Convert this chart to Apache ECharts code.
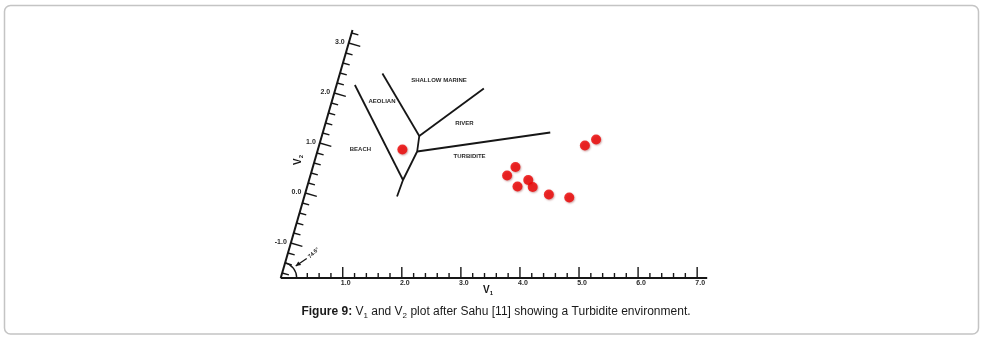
<!DOCTYPE html>
<html>
<head>
<meta charset="utf-8">
<script src="https://cdn.jsdelivr.net/npm/echarts@6/dist/echarts.min.js"></script>
<style>
html, body { margin: 0; padding: 0; background: #fff; }
#main { width: 984px; height: 344px; }
</style>
</head>
<body>
<div id="main"></div>
<script>
// samples (V1, V2)
var sampleV1 = [4.45, 4.61, 3.38, 3.28, 3.66, 3.51, 3.77, 4.08, 4.44, 1.38];
var sampleV2 = [0.95, 1.07, 0.52, 0.35, 0.26, 0.13, 0.12, -0.03, -0.09, 0.87];

// field boundaries as (V1, V2) vertices
var beachLine = [[0.26, 2.16], [1.54, 0.26]];
var aeolianLine = [[0.67, 2.39], [1.60, 1.14]];
var stemLine = [[1.60, 1.14], [1.64, 0.83], [1.54, 0.26], [1.52, -0.07]];
var riverLine = [[1.60, 1.14], [2.46, 2.09]];
var turbiditeLine = [[1.64, 0.83], [3.80, 1.21]];

var fieldNames = ['SHALLOW MARINE', 'AEOLIAN', 'RIVER', 'BEACH', 'TURBIDITE'];
var fieldV1 = [1.66, 0.80, 2.30, 0.67, 2.55];
var fieldV2 = [2.26, 1.83, 1.40, 0.87, 0.74];

// axes
var v1Range = [-0.05, 7.17];
var v2Range = [-1.7, 3.26];
var v1Ticks = [1, 2, 3, 4, 5, 6, 7];
var v1Labels = ['1.0', '2.0', '3.0', '4.0', '5.0', '6.0', '7.0'];
var v2Ticks = [-1, 0, 1, 2, 3];
var v2Labels = ['-1.0', '0.0', '1.0', '2.0', '3.0'];
var angleLabel = '74.6\u00b0';

// V2 axis leans over; shift in V1 units per unit of V2
var SKEW = 0.245;
function toXY(a, b) {
    return [a + (b - v2Range[0]) * SKEW, b];
}

var INK = '#161616';
var FONT = 'Liberation Sans, Arial, sans-serif';

function seg(pts) {
    return pts.map(function (d) { return toXY(d[0], d[1]); });
}

function boundary(pts) {
    return {
        type: 'line',
        data: seg(pts),
        symbol: 'none',
        silent: true,
        lineStyle: { color: INK, width: 1.8 },
        z: 3
    };
}

function renderFrame(params, api) {
    var ch = [];
    var p = function (a, b) { return api.coord(toXY(a, b)); };
    var line = function (a, b, w) {
        ch.push({ type: 'line', shape: { x1: a[0], y1: a[1], x2: b[0], y2: b[1] },
            style: { stroke: INK, lineWidth: w } });
    };
    var text = function (x, y, s, size, align, extra) {
        var st = { text: s, x: x, y: y, fill: '#2a2a2a', fontSize: size, fontWeight: 'bold',
            fontFamily: FONT, align: align || 'center', verticalAlign: 'middle' };
        var el = { type: 'text', style: st };
        if (extra) { for (var k in extra) el[k] = extra[k]; }
        ch.push(el);
    };

    var o = p(v1Range[0], v2Range[0]);
    var top = p(v1Range[0], v2Range[1]);
    line(o, p(v1Range[1], v2Range[0]), 2);
    line(o, top, 2);

    // V1 ticks, every 0.2, pointing up
    for (var i = 2; i <= 35; i++) {
        var a = p(i / 5, v2Range[0]);
        var len = i % 5 === 0 ? 11 : 5;
        line(a, [a[0], a[1] - len], 1.4);
    }
    v1Ticks.forEach(function (t, k) {
        var a = p(t, v2Range[0]);
        text(a[0] + 3, a[1] + 5.5, v1Labels[k], 7);
    });

    // V2 ticks, perpendicular to the leaning axis
    var dx = top[0] - o[0], dy = top[1] - o[1];
    var dl = Math.sqrt(dx * dx + dy * dy);
    var nx = -dy / dl, ny = dx / dl;
    for (var j = -8; j <= 16; j++) {
        var b = p(v1Range[0], j / 5);
        var ln = j % 5 === 0 ? 12 : 7;
        line(b, [b[0] + nx * ln, b[1] + ny * ln], 1.4);
    }
    v2Ticks.forEach(function (t, k) {
        var b = p(v1Range[0], t);
        text(b[0] - 4, b[1] - 1, v2Labels[k], 7, 'right');
    });

    // axis titles
    var t1 = p(3.46, v2Range[0]);
    ch.push({ type: 'text', style: { text: '{v|V}{s|1}', x: t1[0], y: t1[1] + 12,
        align: 'center', verticalAlign: 'middle',
        rich: { v: { fontSize: 10, fontWeight: 'bold', fill: INK, fontFamily: FONT },
                s: { fontSize: 6, fontWeight: 'bold', fill: INK, fontFamily: FONT, padding: [6, 0, 0, 0] } } } });
    var t2 = p(v1Range[0], 0.66);
    ch.push({ type: 'text', x: t2[0] - 17, y: t2[1], rotation: Math.PI / 2,
        style: { text: '{v|V}{s|2}', x: 0, y: 0, align: 'center', verticalAlign: 'middle',
        rich: { v: { fontSize: 10, fontWeight: 'bold', fill: INK, fontFamily: FONT },
                s: { fontSize: 6, fontWeight: 'bold', fill: INK, fontFamily: FONT, padding: [6, 0, 0, 0] } } } });

    // angle mark at the corner
    var ang = Math.atan2(-dy, dx);
    ch.push({ type: 'arc', shape: { cx: o[0], cy: o[1], r: 16, startAngle: -ang, endAngle: 0, clockwise: true },
        style: { stroke: INK, lineWidth: 1.4, fill: null } });
    var tip = [o[0] + 15, o[1] - 12];
    var tail = [o[0] + 26, o[1] - 19.5];
    line(tip, tail, 1.3);
    ch.push({ type: 'polygon', shape: { points: [tip, [tip[0] + 5.5, tip[1] - 1], [tip[0] + 2.5, tip[1] - 4.5]] },
        style: { fill: INK } });
    text(o[0] + 33, o[1] - 25, angleLabel, 5.5, 'center', { rotation: Math.PI / 4.2, originX: o[0] + 33, originY: o[1] - 25 });

    // field names
    fieldNames.forEach(function (n, k) {
        var f = p(fieldV1[k], fieldV2[k]);
        text(f[0], f[1], n, 6);
    });

    return { type: 'group', children: ch };
}

var chart = echarts.init(document.getElementById('main'), null, { renderer: 'canvas' });
var option = {
    animation: false,
    backgroundColor: '#fff',
    grid: { left: 224.6, right: 168.7, top: 13, bottom: 66 },
    xAxis: { type: 'value', min: -1, max: 9, show: false },
    yAxis: { type: 'value', min: -1.7, max: 3.6, show: false },
    graphic: [
        { type: 'rect', shape: { x: 4.5, y: 5.5, width: 974, height: 328.5, r: 6 },
          style: { fill: null, stroke: '#c4c4c4', lineWidth: 1.5 }, silent: true },
        { type: 'text', x: 496, y: 312, silent: true,
          style: { text: '{b|Figure 9:}{n| V}{s|1}{n| and V}{s|2}{n| plot after Sahu [11] showing a Turbidite environment.}',
            align: 'center', verticalAlign: 'middle',
            rich: {
                b: { fontSize: 12, fontWeight: 'bold', fill: '#1a1a1a', fontFamily: FONT },
                n: { fontSize: 12, fill: '#1a1a1a', fontFamily: FONT },
                s: { fontSize: 8, fill: '#1a1a1a', fontFamily: FONT, padding: [8, 0, 0, 0] }
            } } }
    ],
    series: [
        { type: 'custom', data: [[0, 0]], renderItem: renderFrame, clip: false, silent: true, z: 2 },
        boundary(beachLine),
        boundary(aeolianLine),
        boundary(stemLine),
        boundary(riverLine),
        boundary(turbiditeLine),
        {
            type: 'scatter',
            data: sampleV1.map(function (a, i) { return toXY(a, sampleV2[i]); }),
            symbolSize: 10,
            itemStyle: { color: '#ec0000', shadowColor: 'rgba(120,0,0,0.45)', shadowBlur: 2,
                shadowOffsetX: 0.8, shadowOffsetY: 1 },
            z: 4
        }
    ]
};
chart.setOption(option);
</script>
</body>
</html>
